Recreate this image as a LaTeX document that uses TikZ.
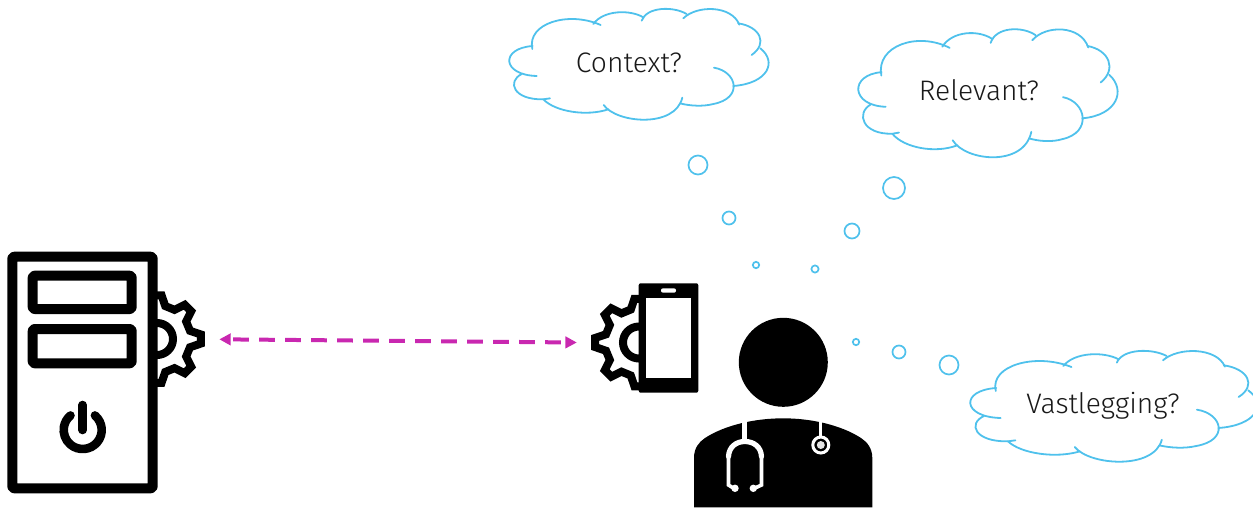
\documentclass[tikz,border=0pt]{standalone}
\usepackage{fontspec}
\setmainfont{Fira Sans}[UprightFont=* Light]
\usetikzlibrary{arrows.meta}
\definecolor{cloudblue}{HTML}{4FC1EC}
\definecolor{linkpink}{HTML}{C928B0}
\tikzset{
  cloudline/.style={draw=cloudblue,line width=.9pt,line cap=round},
  bubble/.style={circle,draw=cloudblue,line width=.85pt,inner sep=0pt},
  thought/.style={font=\fontsize{14.1}{16}\selectfont,text=black!90},
  iconline/.style={draw=black,line width=5pt,line join=round},
  gearwheel/.pic={
    \begin{scope}
    \clip (0,-60) rectangle (60,60);
    \draw[draw=black,line width=4pt,line join=miter]
      (-14:34) \foreach \a in {0,45,...,315} { -- (\a-14:34) -- (\a-6:44) -- (\a+6:44) -- (\a+14:34) } -- cycle;
    \draw[draw=black,line width=4pt] (0,0) circle[radius=16];
    \end{scope}
  },
  thoughtcloud/.pic={
    \draw[cloudline] (98,138) .. controls (0,145) and (5,225) .. (110,228);
    \draw[cloudline] (65,222) .. controls (20,245) and (40,300) .. (130,298) -- (150,295);
    \draw[cloudline] (130,298) .. controls (165,335) and (260,350) .. (325,328);
    \draw[cloudline] (311,315) .. controls (350,370) and (525,385) .. (547,293);
    \draw[cloudline] (642,203) .. controls (712,215) and (730,295) .. (640,312) .. controls (610,320) and (570,318) .. (540,310);
    \draw[cloudline] (700,258) .. controls (805,250) and (832,185) .. (781,145);
    \draw[cloudline] (755,165) .. controls (805,130) and (780,80) .. (715,70);
    \draw[cloudline] (718,74) .. controls (695,15) and (590,15) .. (550,55);
    \draw[cloudline] (560,42) .. controls (520,18) and (440,20) .. (425,62);
    \draw[cloudline] (430,52) .. controls (390,28) and (310,30) .. (280,72);
    \draw[cloudline] (302,75) .. controls (205,32) and (80,70) .. (97,147);
  }
}
\begin{document}
\begin{tikzpicture}[x=.5pt,y=-.5pt,>={Triangle[length=5.7pt,width=5.7pt]}]
\useasboundingbox (0,0) rectangle (1253,510);
% clouds
\pic[xscale=.3333,yscale=.3333] at (500,0) {thoughtcloud};
\pic[xscale=.3333,yscale=.385] at (849,19) {thoughtcloud};
\pic[xscale=.369,yscale=.3333] at (960,342) {thoughtcloud};
\node[thought] (context) at (629,62.5) {Context?};
\node[thought] (relevant) at (979,90.5) {Relevant?};
\node[thought] (vastlegging) at (1103,406) {Vastlegging?};
% bubbles
\node[bubble,minimum size=9.5pt] (c1) at (698,165) {};
\node[bubble,minimum size=6.5pt] (c2) at (729,218) {};
\node[bubble,minimum size=3.2pt] (c3) at (756,265) {};
\node[bubble,minimum size=11pt] (r1) at (894,188) {};
\node[bubble,minimum size=7.5pt] (r2) at (852,231) {};
\node[bubble,minimum size=3.6pt] (r3) at (815,269) {};
\node[bubble,minimum size=9.5pt] (v1) at (949,365) {};
\node[bubble,minimum size=6.5pt] (v2) at (899,352) {};
\node[bubble,minimum size=3.2pt] (v3) at (856,342) {};
% server
\pic at (157,339) {gearwheel};
\draw[iconline,rounded corners=1pt] (12.3,256.7) rectangle (152.7,488.3);
\draw[iconline,rounded corners=1pt] (32.7,275.7) rectangle (131.7,309);
\draw[iconline,rounded corners=1pt] (32.7,329) rectangle (131.7,363.3);
\coordinate (power) at (82.7,430);
\draw[black,line width=4.3pt,line cap=round] (power) ++(-50:19) arc[start angle=-50,end angle=230,radius=19];
\draw[black,line width=4.3pt,line cap=round] (82.7,405) -- (power);
% phone
\pic[xscale=-1] at (639,342.5) {gearwheel};
\fill[black,rounded corners=1pt] (638.7,283.3) rectangle (698.3,392.7);
\fill[white] (646,297.7) rectangle (691,377.7);
\fill[white,rounded corners=1pt] (661,288.3) rectangle (676,292.7);
% doctor
\fill[black] (783.3,362.3) circle[radius=44.5];
\fill[black] (694,507.3) -- (694,458) .. controls (694,448) and (699,442) .. (705,438) .. controls (725,425) and (755,418.3) .. (783.2,418.3) .. controls (811,418.3) and (841,425) .. (861,438) .. controls (867,442) and (872.3,448) .. (872.3,458) -- (872.3,507.3) -- cycle;
\draw[white,line width=2.4pt] (744.3,420) -- (744.3,442);
\draw[white,line width=2.6pt,line cap=round] (728.5,456.5) .. controls (729,447) and (736,441.5) .. (744.8,441.5) .. controls (754,441.5) and (761,447) .. (761.5,456.5);
\draw[white,line width=1.8pt,line cap=round] (734,488.5) -- (728.5,485) -- (728.5,456);
\draw[white,line width=1.8pt,line cap=round] (761.5,456) -- (761.5,485) -- (754,488.5);
\fill[white] (735,488.3) circle[radius=3.7];
\fill[white] (753.3,488.3) circle[radius=3.7];
\draw[white,line width=1.5pt] (820.8,420) -- (820.8,437);
\draw[white,line width=1.5pt] (820.8,445) circle[radius=8];
\fill[white!90!black] (820.8,445) circle[radius=4];
% link
\coordinate (serverlink) at (219.3,339.3);
\coordinate (phonelink) at (576.8,342.5);
\draw[<->,linkpink,line width=2pt,dash pattern=on 7.8pt off 5.2pt,dash phase=11.4pt] (serverlink) -- (phonelink);
\end{tikzpicture}
\end{document}
